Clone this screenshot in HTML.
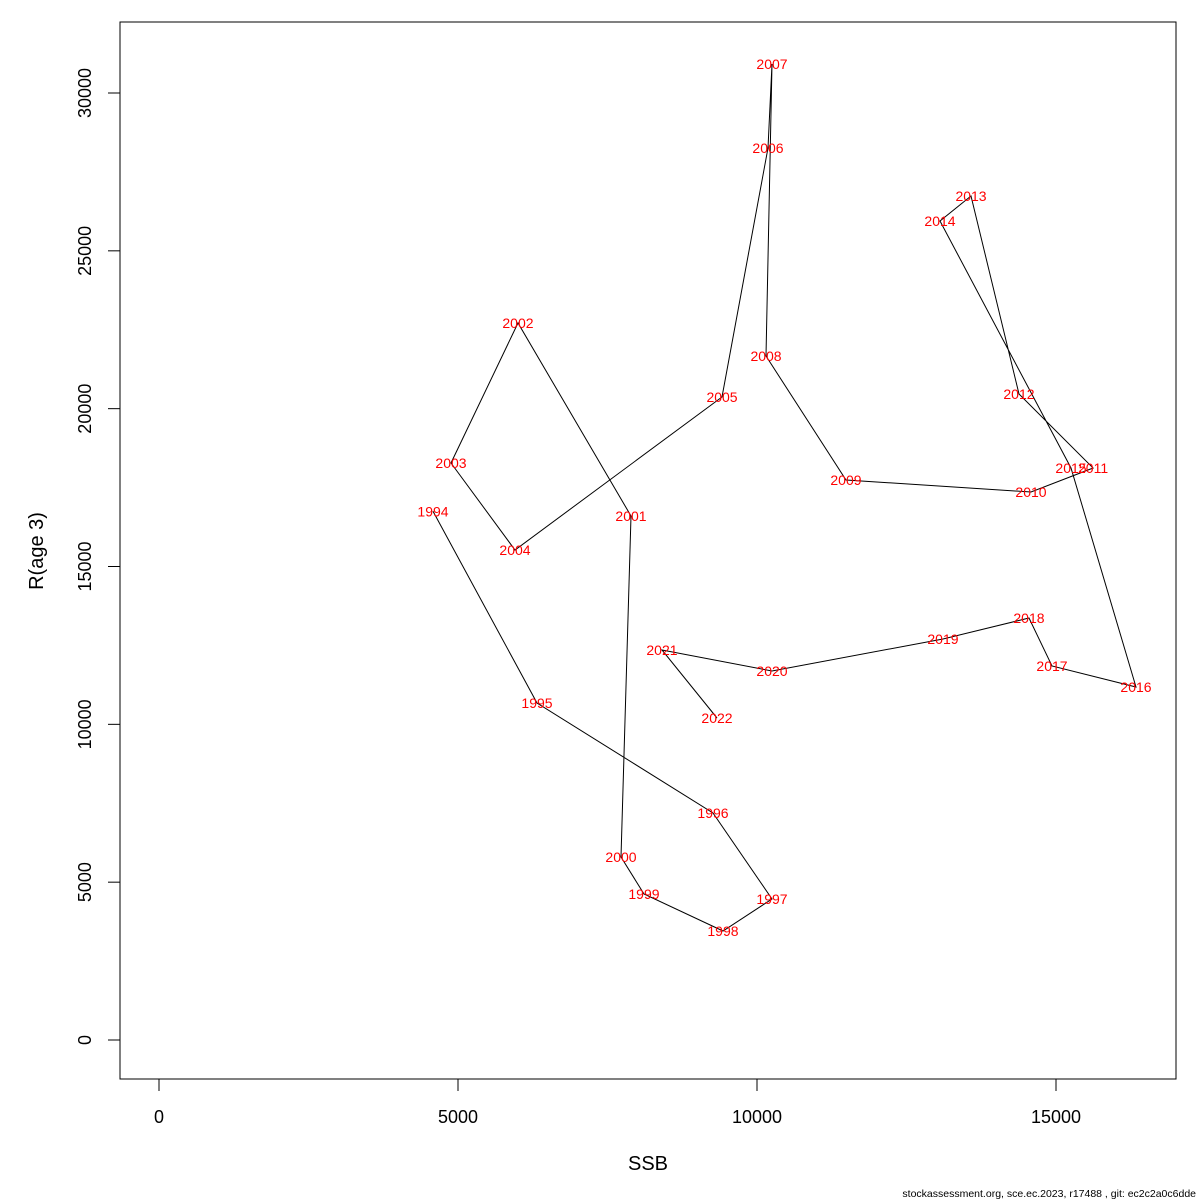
<!DOCTYPE html>
<html><head><meta charset="utf-8"><style>
html,body{margin:0;padding:0;background:#fff;}
svg{display:block;font-family:"Liberation Sans",sans-serif;}
</style></head><body>
<svg id="chart" width="1200" height="1200" xmlns="http://www.w3.org/2000/svg">
<rect x="0" y="0" width="1200" height="1200" fill="#fff"/>
<rect x="120" y="22" width="1056" height="1057" fill="none" stroke="#000" stroke-width="1"/>
<g id="axes"></g>
<g id="series"></g>
<text x="648" y="1170" font-size="20" text-anchor="middle">SSB</text>
<text transform="translate(43,551) rotate(-90)" font-size="20" text-anchor="middle">R(age 3)</text>
<text x="1196" y="1197" font-size="10.5" text-anchor="end">stockassessment.org, sce.ec.2023, r17488 , git: ec2c2a0c6dde</text>
</svg>
<script>
const years = [1994,1995,1996,1997,1998,1999,2000,2001,2002,2003,2004,2005,2006,2007,2008,2009,2010,2011,2012,2013,2014,2015,2016,2017,2018,2019,2020,2021,2022];
const ssb = [4582,6321,9264,10251,9431,8110,7726,7893,6003,4883,5953,9415,10184,10251,10151,11488,14582,15620,14381,13579,13060,15251,16338,14933,14548,13110,10251,8411,9331];
const rec = [16750,10676,7191,4467,3453,4625,5797,16599,22713,18278,15522,20369,28257,30918,21668,17740,17360,18120,20464,26737,25945,18120,11182,11848,13368,12703,11689,12355,10200];
const xTicks = [0,5000,10000,15000];
const yTicks = [0,5000,10000,15000,20000,25000,30000];

const NS = "http://www.w3.org/2000/svg";
function sx(v){ return 159 + v * (299/5000); }
function sy(v){ return 1040 - v * (947/30000); }
function mk(tag, attrs){ const e = document.createElementNS(NS, tag); for (const k in attrs) e.setAttribute(k, attrs[k]); return e; }

const axes = document.getElementById('axes');
const xl = mk('line',{x1:sx(xTicks[0]),x2:sx(xTicks[xTicks.length-1]),y1:1079,y2:1079,stroke:'#000'});


axes.appendChild(xl);
xTicks.forEach(t=>{
  const l = mk('line',{x1:sx(t),x2:sx(t),y1:1079,y2:1091,stroke:'#000'});
  
  
  axes.appendChild(l);
  const tx = mk('text',{x:sx(t),y:1123,'font-size':18,'text-anchor':'middle'});
  
  
  tx.textContent = t;
  axes.appendChild(tx);
});
const yl = mk('line',{x1:120,x2:120,y1:sy(yTicks[0]),y2:sy(yTicks[yTicks.length-1]),stroke:'#000'});


axes.appendChild(yl);
yTicks.forEach(t=>{
  const l = mk('line',{x1:108,x2:120,y1:sy(t),y2:sy(t),stroke:'#000'});
  
  
  axes.appendChild(l);
  const tx = mk('text',{transform:`translate(91,${sy(t)}) rotate(-90)`,'font-size':18,'text-anchor':'middle'});
  
  
  tx.textContent = t;
  axes.appendChild(tx);
});

const series = document.getElementById('series');
const pts = years.map((y,i)=>sx(ssb[i]).toFixed(1)+','+sy(rec[i]).toFixed(1)).join(' ');
const pl = mk('polyline',{points:pts,fill:'none',stroke:'#000','stroke-width':1});


series.appendChild(pl);
years.forEach((y,i)=>{
  const t = mk('text',{x:sx(ssb[i]),y:sy(rec[i])+5,'font-size':14,fill:'#ff0000','text-anchor':'middle'});
  
  
  t.textContent = y;
  series.appendChild(t);
});
</script>
</body></html>
